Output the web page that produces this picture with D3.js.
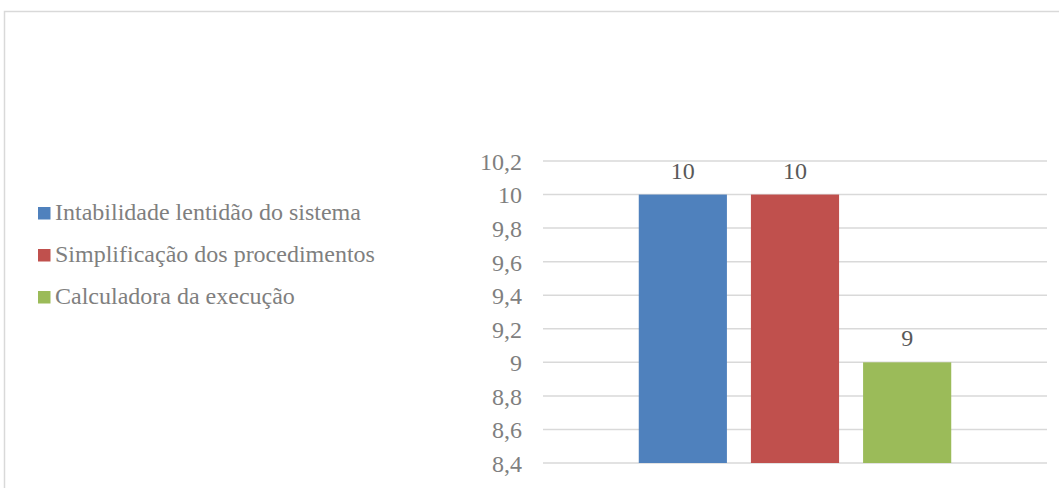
<!DOCTYPE html>
<html>
<head>
<meta charset="utf-8">
<script src="https://cdn.jsdelivr.net/npm/d3@7"></script>
<style>
  html, body { margin: 0; padding: 0; background: #fff; }
  svg { display: block; }
</style>
</head>
<body>
<svg id="chart" width="1059" height="488"></svg>
<script>
// Series shown in the chart (single category, three series)
const seriesNames = [
  "Intabilidade lentidão do sistema",
  "Simplificação dos procedimentos",
  "Calculadora da execução"
];
const seriesValues = [10, 10, 9];
const seriesColors = ["#4f81bd", "#c0504d", "#9bbb59"];
const categories = [""];
const yTicks = [8.4, 8.6, 8.8, 9, 9.2, 9.4, 9.6, 9.8, 10, 10.2];

const svg = d3.select("#chart");
const font = "Liberation Serif";
const fontSize = 24;

// Outer chart frame
svg.append("rect")
  .attr("x", 4.5).attr("y", 11.5)
  .attr("width", 1100).attr("height", 520)
  .attr("fill", "none")
  .attr("stroke", "#d9d9d9")
  .attr("stroke-width", 1.5);

const plot = { left: 543, right: 1047, top: 161, bottom: 463 };

const y = d3.scaleLinear()
  .domain([8.4, 10.2])
  .range([plot.bottom, plot.top]);

const x0 = d3.scaleBand()
  .domain(categories)
  .range([plot.left, plot.right])
  .paddingInner(0.38)
  .paddingOuter(0.19);

const x1 = d3.scaleBand()
  .domain(seriesNames)
  .range([0, x0.bandwidth()])
  .paddingInner(0.214)
  .paddingOuter(0);

// Horizontal gridlines
svg.append("g")
  .selectAll("line")
  .data(yTicks)
  .join("line")
  .attr("x1", plot.left).attr("x2", plot.right)
  .attr("y1", d => y(d)).attr("y2", d => y(d))
  .attr("stroke", "#d9d9d9")
  .attr("stroke-width", 1.5);

// Y axis labels (decimal comma)
const fmt = d => d3.format("~g")(d).replace(".", ",");
const yAxis = d3.axisLeft(y).tickValues(yTicks).tickFormat(fmt).tickSize(0).tickPadding(0);
const gy = svg.append("g")
  .attr("transform", `translate(${522},0)`)
  .call(yAxis)
  .attr("font-family", font)
  .attr("font-size", fontSize);
gy.select(".domain").remove();
gy.selectAll("text")
  .attr("fill", "#7f7f7f")
  .attr("dy", "0.35em");

// Bars
const data = seriesNames.map((name, i) => ({ name, value: seriesValues[i], color: seriesColors[i] }));
const barG = svg.append("g").attr("transform", `translate(${x0("")},0)`);
barG.selectAll("rect")
  .data(data)
  .join("rect")
  .attr("x", d => x1(d.name))
  .attr("width", x1.bandwidth())
  .attr("y", d => y(d.value))
  .attr("height", d => y(8.4) - y(d.value))
  .attr("fill", d => d.color);

// Value labels above each bar
barG.selectAll("text")
  .data(data)
  .join("text")
  .attr("x", d => x1(d.name) + x1.bandwidth() / 2)
  .attr("y", d => y(d.value) - 16)
  .attr("text-anchor", "middle")
  .attr("font-family", font)
  .attr("font-size", fontSize)
  .attr("fill", "#595959")
  .text(d => fmt(d.value));

// Legend
const legend = svg.append("g").attr("transform", "translate(38,220)");
const item = legend.selectAll("g")
  .data(data)
  .join("g")
  .attr("transform", (d, i) => `translate(0,${i * 42})`);
item.append("rect")
  .attr("x", 0).attr("y", -13)
  .attr("width", 12.5).attr("height", 12.5)
  .attr("fill", d => d.color);
item.append("text")
  .attr("x", 17).attr("y", 0)
  .attr("font-family", font)
  .attr("font-size", fontSize)
  .attr("fill", "#7f7f7f")
  .text(d => d.name);
</script>
</body>
</html>
